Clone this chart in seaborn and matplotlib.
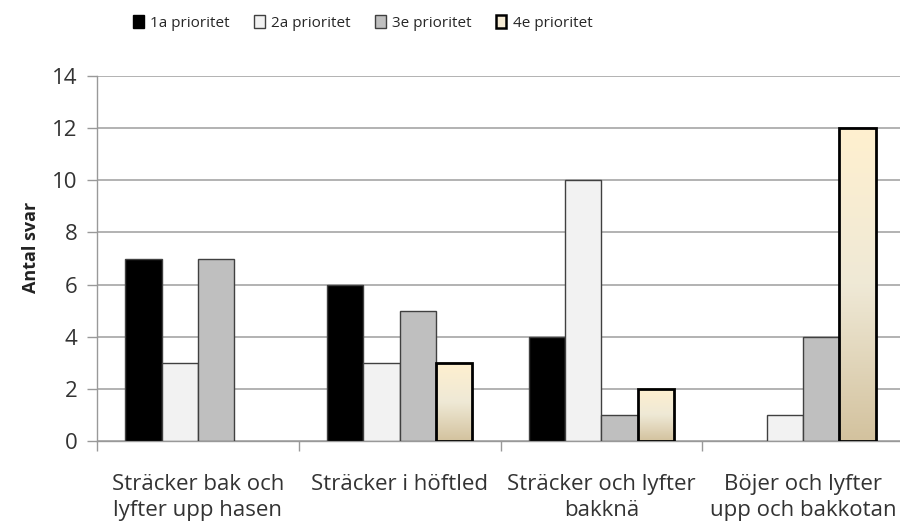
import numpy as np
import pandas as pd
import matplotlib
matplotlib.use("Agg")
import matplotlib.pyplot as plt
import seaborn as sns
from matplotlib.colors import LinearSegmentedColormap
from matplotlib.patches import Patch

categories = ["Sträcker bak och\nlyfter upp hasen", "Sträcker i höftled",
              "Sträcker och lyfter\nbakknä", "Böjer och lyfter\nupp och bakkotan"]
series = ["1a prioritet", "2a prioritet", "3e prioritet", "4e prioritet"]
v1 = [7, 6, 4, 0]
v2 = [3, 3, 10, 1]
v3 = [7, 5, 1, 4]
v4 = [0, 3, 2, 12]
yticks = [0, 2, 4, 6, 8, 10, 12, 14]

df = pd.DataFrame({
    "cat": categories * 4,
    "series": [s for s in series for _ in categories],
    "val": v1 + v2 + v3 + v4,
})

sns.set_theme(style="white")
plt.rcParams["font.family"] = ["Open Sans", "DejaVu Sans"]

fig = plt.figure(figsize=(9, 5.29), dpi=100)
ax = fig.add_axes([97 / 900, 1 - 441 / 529, 807 / 900, 365 / 529])

colors = ["#000000", "#F2F2F2", "#BFBFBF", "#F5EBD4"]
sns.barplot(data=df, x="cat", y="val", hue="series", order=categories,
            hue_order=series, palette=colors, saturation=1, width=0.72,
            ax=ax, legend=False, zorder=3)

cmap = LinearSegmentedColormap.from_list("g", ["#D3C29E", "#EFE9D6", "#FFF0CF"])
for i, cont in enumerate(ax.containers):
    for bar in cont:
        h = bar.get_height()
        if h == 0:
            bar.set_visible(False)
            continue
        if i == 3:
            bar.set_edgecolor("#000000")
            bar.set_linewidth(2.0)
            x, w = bar.get_x(), bar.get_width()
            grad = np.linspace(1, 0, 256).reshape(-1, 1)
            ax.imshow(grad, extent=[x, x + w, 0, h], aspect="auto", cmap=cmap,
                      origin="upper", zorder=2.9, interpolation="bilinear")
            bar.set_facecolor("none")
        else:
            bar.set_edgecolor("#404040")
            bar.set_linewidth(1.0)

ax.set_xlim(-0.5, 3.5)
ax.set_ylim(0, 14)
ax.set_yticks(yticks)
ax.set_yticklabels([str(t) for t in yticks], fontsize=16, color="#333333")
ax.yaxis.grid(True, color="#A6A6A6", linewidth=1.2, zorder=0)
ax.set_axisbelow(True)

ax.set_xticks([-0.5, 0.5, 1.5, 2.5, 3.5])
ax.set_xticklabels([])
ax.set_xticks([0, 1, 2, 3], minor=True)
ax.set_xticklabels(categories, minor=True, fontsize=16, color="#333333",
                   linespacing=1.3)
ax.tick_params(axis="x", which="major", direction="out", length=7, width=1,
               color="#999999", bottom=True)
ax.tick_params(axis="x", which="minor", length=0, pad=24, bottom=True)
ax.tick_params(axis="y", direction="out", length=7, width=1, color="#999999",
               left=True, pad=7)

for s in ["top", "right"]:
    ax.spines[s].set_visible(False)
for s in ["left", "bottom"]:
    ax.spines[s].set_color("#999999")
    ax.spines[s].set_linewidth(1)

ax.set_xlabel("")
ax.set_ylabel("Antal svar", fontsize=13, fontweight="bold", color="#222222")
ax.yaxis.set_label_coords(-0.071, 0.53)

handles = [
    Patch(facecolor="#000000", edgecolor="#000000", linewidth=1),
    Patch(facecolor="#F2F2F2", edgecolor="#404040", linewidth=1),
    Patch(facecolor="#BFBFBF", edgecolor="#404040", linewidth=1),
    Patch(facecolor="#F5EBD4", edgecolor="#000000", linewidth=1.8),
]
fig.legend(handles, series, loc="upper center", bbox_to_anchor=(0.403, 1.0),
           ncol=4, frameon=False, fontsize=11, handlelength=0.7,
           handleheight=1.0, handletextpad=0.4, columnspacing=1.6,
           borderaxespad=0.55)

fig.savefig("out.png", dpi=100)
